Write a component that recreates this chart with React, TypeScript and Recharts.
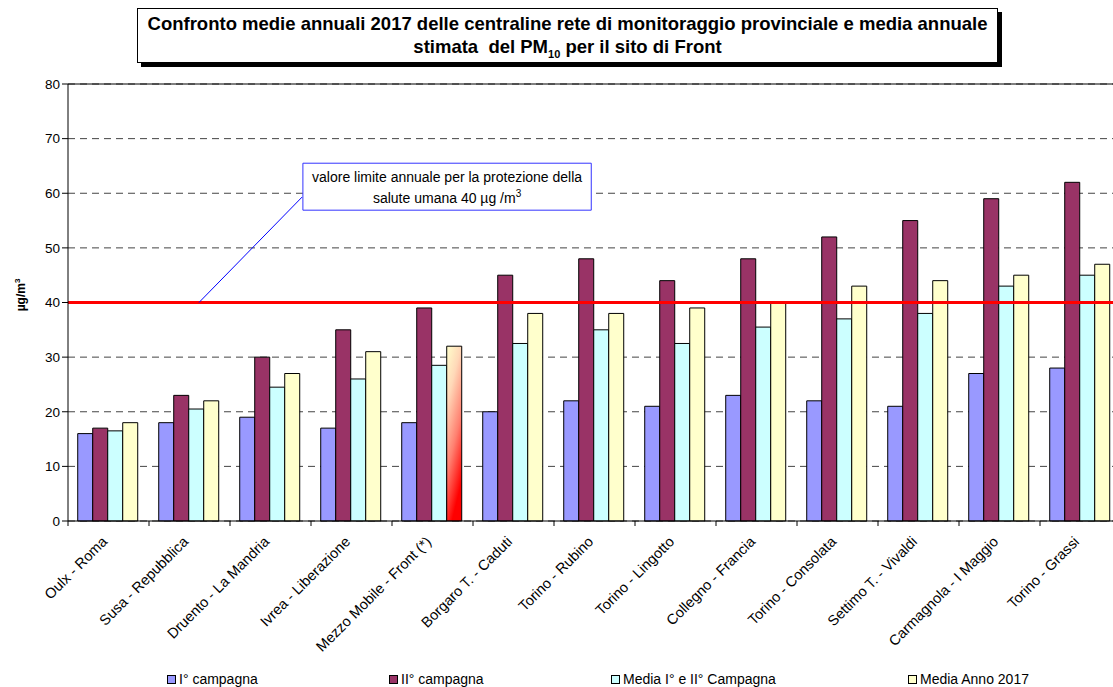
import React from 'react';
import {
  BarChart, Bar, XAxis, YAxis, CartesianGrid, ReferenceLine, ReferenceArea, Cell, Label,
} from 'recharts';

const categories = [
  'Oulx - Roma', 'Susa - Repubblica', 'Druento - La Mandria', 'Ivrea - Liberazione',
  'Mezzo Mobile - Front (*)', 'Borgaro T. - Caduti', 'Torino - Rubino', 'Torino - Lingotto',
  'Collegno - Francia', 'Torino - Consolata', 'Settimo T. - Vivaldi', 'Carmagnola - I Maggio', 'Torino - Grassi',
];
const campagna1 = [16, 18, 19, 17, 18, 20, 22, 21, 23, 22, 21, 27, 28];
const campagna2 = [17, 23, 30, 35, 39, 45, 48, 44, 48, 52, 55, 59, 62];
const mediaCampagne = [16.5, 20.5, 24.5, 26, 28.5, 32.5, 35, 32.5, 35.5, 37, 38, 43, 45];
const mediaAnno = [18, 22, 27, 31, 32, 38, 38, 39, 40, 43, 44, 45, 47];
const yTicks = [0, 10, 20, 30, 40, 50, 60, 70, 80];
const limitValue = 40;
const frontIndex = 4;

const seriesNames = ['I° campagna', 'II° campagna', 'Media I° e II° Campagna', 'Media Anno 2017'];
const seriesKeys = ['c1', 'c2', 'mc', 'ma'];
const seriesColors = ['#9999FF', '#993366', '#CCFFFF', '#FFFFCC'];

// annotation box position in (category-index, value) units
const boxX = [2.9, 6.46];
const boxY = [56.9, 65.5];
const connector = [{ x: 2.89, y: 59.3 }, { x: 1.617, y: 40 }];

const data = categories.map((name, i) => ({
  name,
  pos: i + 0.5,
  c1: campagna1[i],
  c2: campagna2[i],
  mc: mediaCampagne[i],
  ma: mediaAnno[i],
}));

const FONT = '"Liberation Sans", Arial, sans-serif';
const CHART_W = 1125;
const CHART_H = 687;
const M_LEFT = 0;
const Y_W = 68;
const M_RIGHT = 4;
const BAND = (CHART_W - M_LEFT - Y_W - M_RIGHT) / categories.length;

const XTick = (props: any) => {
  const { x, payload } = props;
  const axisY = 521;
  return (
    <g>
      <line x1={x - BAND / 2} x2={x - BAND / 2} y1={axisY} y2={axisY + 5} stroke="#000" />
      <g transform={`translate(${x - 4},${axisY + 18})`}>
        <text x={0} y={0} dy="0.35em" textAnchor="end" transform="rotate(-45)" fontSize={14.5} fill="#000" fontFamily={FONT}>
          {payload.value}
        </text>
      </g>
    </g>
  );
};

const BoxLabel = (props: any) => {
  const { viewBox } = props;
  const cx = viewBox.x + viewBox.width / 2;
  const top = viewBox.y;
  return (
    <g fontFamily={FONT} fontSize={14} fill="#000">
      <text x={cx} y={top + 19} textAnchor="middle">valore limite annuale per la protezione della</text>
      <text x={cx} y={top + 40} textAnchor="middle">
        salute umana 40 µg /m<tspan dy={-6} fontSize={10}>3</tspan>
      </text>
    </g>
  );
};

const YLabel = () => (
  <text transform="translate(25,295) rotate(-90)" textAnchor="middle" fontFamily={FONT} fontWeight="bold" fontSize={12} fill="#000">
    µg/m<tspan dy={-5} fontSize={8}>3</tspan>
  </text>
);

export default function App() {
  return (
    <div style={{ position: 'absolute', left: 0, top: 0, width: 1113, height: 687, overflow: 'hidden', background: '#fff', fontFamily: FONT }}>
      <BarChart
        width={CHART_W}
        height={CHART_H}
        data={data}
        margin={{ top: 84, right: M_RIGHT, left: M_LEFT, bottom: 46 }}
        barCategoryGap="12%"
        barGap={0}
      >
        <defs>
          <linearGradient id="frontGrad" x1="0" y1="0" x2="0.35" y2="1">
            <stop offset="0" stopColor="#FFFFCC" />
            <stop offset="0.3" stopColor="#FFD8B8" />
            <stop offset="0.65" stopColor="#FF8070" />
            <stop offset="1" stopColor="#FF0000" />
          </linearGradient>
        </defs>
        <CartesianGrid vertical={false} stroke="#444" strokeDasharray="7 5" />
        <XAxis dataKey="name" interval={0} tick={<XTick />} tickLine={false} axisLine={{ stroke: '#000' }} height={120} />
        <XAxis xAxisId="n" dataKey="pos" type="number" domain={[0, categories.length]} allowDataOverflow hide />
        <YAxis
          domain={[0, 80]}
          ticks={yTicks}
          width={Y_W}
          tickSize={6}
          tickLine={{ stroke: '#000' }}
          axisLine={{ stroke: '#000' }}
          tick={{ fill: '#000', fontSize: 13.5, fontFamily: FONT }}
          label={<Label content={<YLabel />} />}
        />
        <ReferenceLine y={80} stroke="#000" />
        {seriesKeys.map((k, si) => (
          <Bar key={k} dataKey={k} name={seriesNames[si]} fill={seriesColors[si]} stroke="#000" strokeWidth={1} isAnimationActive={false}>
            {si === 3
              ? data.map((d, i) => (
                  <Cell key={i} fill={i === frontIndex ? 'url(#frontGrad)' : seriesColors[si]} />
                ))
              : null}
          </Bar>
        ))}
        <ReferenceLine y={limitValue} stroke="#FF0000" strokeWidth={3} />
        <ReferenceLine xAxisId="n" segment={connector} stroke="#0000FF" strokeWidth={1} />
        <ReferenceArea
          xAxisId="n"
          x1={boxX[0]}
          x2={boxX[1]}
          y1={boxY[0]}
          y2={boxY[1]}
          fill="#fff"
          fillOpacity={1}
          stroke="#3333FF"
          strokeWidth={1}
          label={<BoxLabel />}
        />
      </BarChart>

      <div style={{
        position: 'absolute', left: 137, top: 8, width: 861, height: 55,
        border: '1px solid #000', boxShadow: '4px 4px 0 #000', background: '#fff',
        textAlign: 'center', fontWeight: 'bold', fontSize: 18.5, lineHeight: '23px', paddingTop: 3, boxSizing: 'border-box', color: '#000',
        whiteSpace: 'nowrap',
      }}>
        Confronto medie annuali 2017 delle centraline rete di monitoraggio provinciale e media annuale<br />
        stimata&nbsp; del PM<sub style={{ fontSize: 11, verticalAlign: 'sub', lineHeight: 0 }}>10</sub> per il sito di Front
      </div>

      {seriesNames.map((n, i) => (
        <div key={n} style={{ position: 'absolute', top: 671, left: [167, 389, 611, 908][i], display: 'flex', alignItems: 'center', fontSize: 14, color: '#000', whiteSpace: 'nowrap' }}>
          <span style={{ display: 'inline-block', width: 7, height: 7, border: '1px solid #000', background: seriesColors[i], marginRight: 3 }} />
          {n}
        </div>
      ))}
    </div>
  );
}
